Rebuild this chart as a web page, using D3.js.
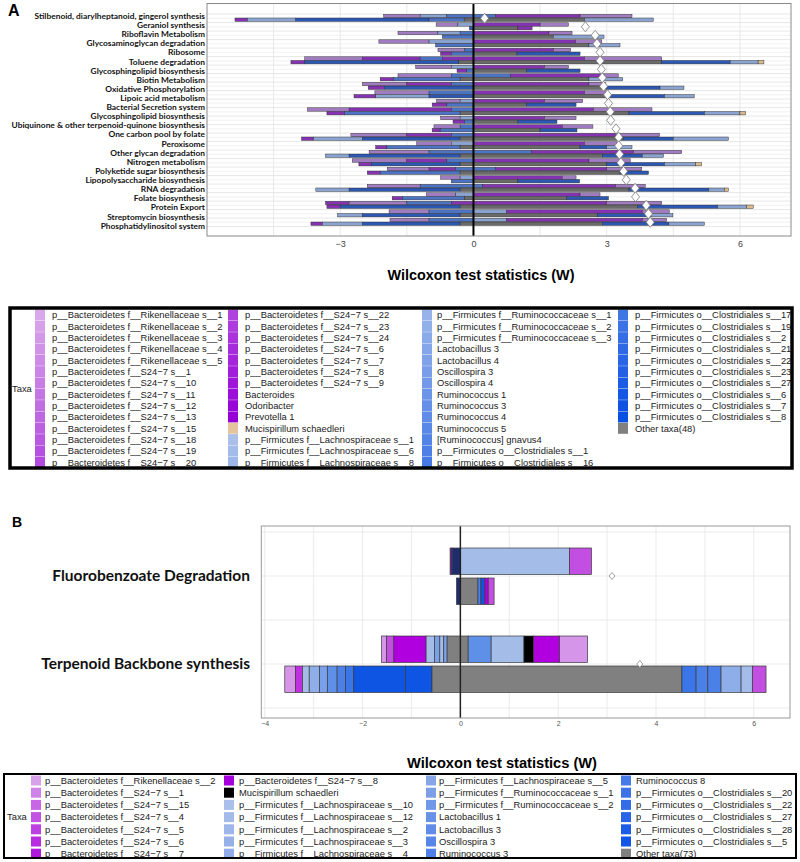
<!DOCTYPE html>
<html><head><meta charset="utf-8">
<script src="https://cdn.jsdelivr.net/npm/d3@7"></script>
<style>body{margin:0;background:#fff}svg{display:block}</style>
</head><body><svg id="c" width="800" height="862"></svg>
<script>
// ---------------- DATA: panel A ----------------
const pathwayLabelsA = ["Stilbenoid, diarylheptanoid, gingerol synthesis","Geraniol synthesis","Riboflavin Metabolism","Glycosaminoglycan degradation","Ribosome","Toluene degradation","Glycosphingolipid biosynthesis","Biotin Metabolism","Oxidative Phosphorylation","Lipoic acid metabolism","Bacterial Secretion system","Glycosphingolipid biosynthesis","Ubiquinone & other terpenoid-quinone biosynthesis","One carbon pool by folate","Peroxisome","Other glycan degradation","Nitrogen metabolism","Polyketide sugar biosynthesis","Lipopolysaccharide biosynthesis","RNA degradation","Folate biosynthesis","Protein Export","Streptomycin biosynthesis","Phosphatidylinositol system"];
const rowsA = ["r1","r2","r3","r4","r5","r6","r7","r8","r9","r10","r11","r12","r13","r14","r15","r16","r17","r18","r19","r20","r21","r22","r23","r24","r25"];
const diamondsA = [0.25,2.52,2.74,2.78,2.85,2.85,2.88,2.90,2.93,3.02,3.04,3.08,3.09,3.21,3.27,3.27,3.29,3.32,3.38,3.44,3.64,3.65,3.89,3.94,3.98];
// each bar: [start, [taxonGroup, end], ...]
const topBarsA = [
 [-2.02,["L",-1.2],["S",-0.6],["B",0.5],["P",2.4],["L",3.57]],
 [-0.84,["L",-0.35],["S",0],["P",1.5],["L",2.14]],
 [-1.70,["L",-0.8],["S",-0.3],["B",0],["P",1.7],["L",2.22]],
 [-2.13,["L",-1.0],["S",0],["P",2.3],["L",2.89]],
 [-0.80,["L",-0.2],["B",0],["P",1.8],["L",2.19]],
 [-3.80,["L",-2.5],["P",-1.2],["B",-0.7],["P",2.5],["L",4.24]],
 [-1.30,["L",-0.5],["S",0],["P",1.6],["L",2.14]],
 [-1.70,["L",-0.5],["B",0.83],["P",2.9],["L",3.26]],
 [-2.50,["L",-1.5],["P",-0.5],["B",0],["P",2.6],["L",2.97]],
 [-2.22,["L",-1.0],["B",0],["P",2.5],["L",2.99]],
 [-0.83,["L",-0.3],["S",0],["P",1.6],["L",2.46]],
 [-3.74,["L",-2.8],["P",-0.5],["B",0],["P",2.7],["L",4.02]],
 [-0.74,["L",-0.3],["S",0],["P",1.6],["L",2.31]],
 [-0.89,["L",-0.3],["B",0],["P",2.0],["L",2.69]],
 [-2.76,["L",-1.5],["P",-0.5],["B",0],["P",3.2],["L",4.19]],
 [-1.28,["L",-0.5],["S",0],["P",2.5],["L",3.23]],
 [-2.35,["L",-1.0],["B",1.3],["P",3.6],["L",4.69]],
 [-2.73,["L",-1.5],["P",-0.6],["B",0],["P",2.6],["L",3.53]],
 [-1.94,["L",-1.0],["P",-0.4],["B",0.5],["P",3.0],["L",3.79]],
 [-0.74,["L",-0.3],["S",0],["P",2.0],["L",2.31]],
 [-2.39,["L",-1.2],["B",0.2],["P",3.2],["L",3.87]],
 [-1.06,["L",-0.4],["S",0],["P",2.4],["L",2.85]],
 [-3.33,["P",-2.8],["L",-1.5],["B",-0.5],["P",3.0],["L",4.24]],
 [-1.90,["L",-1.0],["B",0],["S",0.75],["P",3.8],["L",4.41]],
 [-1.88,["L",-1.0],["B",0],["S",0.75],["P",3.8],["L",4.35]]
];
const bottomBarsA = [
 [-5.37,["P",-5.09],["S",-4.0],["D",-1.0],["B",-0.2],["G",2.5],["S",4.05]],
 [-0.09,["D",0],["G",1.0],["P",1.32]],
 [-0.70,["B",0],["G",1.8],["S",2.94]],
 [-0.85,["B",0],["G",2.6],["S",3.30]],
 [-0.74,["P",-0.5],["B",0],["G",0.98],["D",2.40]],
 [-4.11,["P",-3.8],["D",-0.33],["G",4.24],["D",5.78],["S",6.41],["T",6.54]],
 [-0.37,["P",-0.15],["B",0],["G",1.2],["D",2.40]],
 [-2.10,["P",-1.8],["B",-0.3],["G",2.6],["S",3.36]],
 [-2.37,["P",-2.0],["D",0],["G",3.0],["D",4.2],["S",4.74]],
 [-2.69,["P",-2.2],["S",-1.0],["D",0],["G",3.0],["D",4.3],["S",4.97]],
 [-0.93,["P",-0.6],["B",0],["G",1.2],["D",2.31]],
 [-3.30,["P",-2.9],["B",-0.3],["G",3.5],["D",5.2],["S",6.0],["T",6.13]],
 [-0.46,["P",-0.2],["B",0],["G",1.0],["D",1.88]],
 [-0.93,["P",-0.75],["B",0],["G",1.5],["D",2.33]],
 [-3.87,["P",-3.6],["S",-2.5],["D",-0.3],["G",3.37],["D",4.5],["S",5.74]],
 [-2.20,["P",-1.95],["B",-0.3],["G",2.4],["D",3.0],["S",3.57]],
 [-3.33,["S",-2.8],["D",-0.3],["G",2.9],["D",3.8],["S",4.28]],
 [-2.58,["P",-2.3],["D",-0.3],["G",3.0],["D",4.3],["S",5.0],["T",5.14]],
 [-2.39,["P",-2.1],["B",-0.3],["G",3.3],["D",3.94]],
 [-0.50,["B",0],["G",1.0],["D",2.39]],
 [-3.55,["S",-2.8],["D",-0.3],["G",3.5],["D",5.3],["S",5.65],["T",5.74]],
 [-1.83,["P",-1.6],["B",-0.2],["G",2.1],["D",3.04]],
 [-3.30,["P",-3.0],["D",-0.3],["G",3.7],["D",5.5],["S",6.15],["T",6.30]],
 [-3.06,["S",-2.5],["D",-0.3],["G",2.8],["D",4.0],["S",4.49]],
 [-3.66,["P",-3.4],["S",-2.5],["D",-0.3],["G",2.9],["D",4.4],["S",5.20]]
];
const ticksA = [-3,0,3,6];
const gridA = [-4.5,-3,-1.5,0,1.5,3,4.5,6];

// legend A
const legendA1 = ["p__Bacteroidetes f__Rikenellaceae s__1","p__Bacteroidetes f__Rikenellaceae s__2","p__Bacteroidetes f__Rikenellaceae s__3","p__Bacteroidetes f__Rikenellaceae s__4","p__Bacteroidetes f__Rikenellaceae s__5","p__Bacteroidetes f__S24\u22127 s__1","p__Bacteroidetes f__S24\u22127 s__10","p__Bacteroidetes f__S24\u22127 s__11","p__Bacteroidetes f__S24\u22127 s__12","p__Bacteroidetes f__S24\u22127 s__13","p__Bacteroidetes f__S24\u22127 s__15","p__Bacteroidetes f__S24\u22127 s__18","p__Bacteroidetes f__S24\u22127 s__19","p__Bacteroidetes f__S24\u22127 s__20"];
const legendA2 = ["p__Bacteroidetes f__S24\u22127 s__22","p__Bacteroidetes f__S24\u22127 s__23","p__Bacteroidetes f__S24\u22127 s__24","p__Bacteroidetes f__S24\u22127 s__6","p__Bacteroidetes f__S24\u22127 s__7","p__Bacteroidetes f__S24\u22127 s__8","p__Bacteroidetes f__S24\u22127 s__9","Bacteroides","Odoribacter","Prevotella 1","Mucispirillum schaedleri","p__Firmicutes f__Lachnospiraceae s__1","p__Firmicutes f__Lachnospiraceae s__6","p__Firmicutes f__Lachnospiraceae s__8"];
const legendA3 = ["p__Firmicutes f__Ruminococcaceae s__1","p__Firmicutes f__Ruminococcaceae s__2","p__Firmicutes f__Ruminococcaceae s__3","Lactobacillus 3","Lactobacillus 4","Oscillospira 3","Oscillospira 4","Ruminococcus 1","Ruminococcus 3","Ruminococcus 4","Ruminococcus 5","[Ruminococcus] gnavus4","p__Firmicutes o__Clostridiales s__1","p__Firmicutes o__Clostridiales s__16"];
const legendA4 = ["p__Firmicutes o__Clostridiales s__17","p__Firmicutes o__Clostridiales s__19","p__Firmicutes o__Clostridiales s__2","p__Firmicutes o__Clostridiales s__21","p__Firmicutes o__Clostridiales s__22","p__Firmicutes o__Clostridiales s__23","p__Firmicutes o__Clostridiales s__27","p__Firmicutes o__Clostridiales s__6","p__Firmicutes o__Clostridiales s__7","p__Firmicutes o__Clostridiales s__8","Other taxa(48)"];

// ---------------- DATA: panel B ----------------
const pathwaysB = ["Fluorobenzoate Degradation","Terpenoid Backbone synthesis"];
const diamondsB = [3.10, 3.67];
const topBarsB = [
 [-0.21,["dp",-0.17],["nv",0],["lb",2.23],["mg",2.68]],
 [-1.61,["lp",-1.51],["mg",-1.36],["vp",-0.70],["lb",-0.53],["mb",-0.42],["lb",-0.34],["mb",-0.27],["gy",0.16],["b1",0.63],["lb",1.30],["bk",1.50],["vp",2.03],["lp",2.60]]
];
const bottomBarsB = [
 [-0.08,["nv",0],["gy",0.36],["b2",0.42],["d1",0.50],["vp",0.57],["mg",0.69]],
 [-3.59,["lp",-3.37],["vp2",-3.23],["lb",-3.09],["lb2",-2.88],["mb",-2.72],["b1",-2.52],["b2",-2.35],["b3",-2.18],["d1",-1.12],["d1",-0.58],["gy",4.53],["b3",4.82],["b2",5.06],["b2",5.33],["lb2",5.74],["lb",5.97],["mg",6.25]]
];
const ticksB = [-4,-2,0,2,4,6];
const gridB = [-4,-3,-2,-1,0,1,2,3,4,5,6];
const legendB1 = ["p__Bacteroidetes f__Rikenellaceae s__2","p__Bacteroidetes f__S24\u22127 s__1","p__Bacteroidetes f__S24\u22127 s__15","p__Bacteroidetes f__S24\u22127 s__4","p__Bacteroidetes f__S24\u22127 s__5","p__Bacteroidetes f__S24\u22127 s__6","p__Bacteroidetes f__S24\u22127 s__7"];
const legendB2 = ["p__Bacteroidetes f__S24\u22127 s__8","Mucispirillum schaedleri","p__Firmicutes f__Lachnospiraceae s__10","p__Firmicutes f__Lachnospiraceae s__12","p__Firmicutes f__Lachnospiraceae s__2","p__Firmicutes f__Lachnospiraceae s__3","p__Firmicutes f__Lachnospiraceae s__4"];
const legendB3 = ["p__Firmicutes f__Lachnospiraceae s__5","p__Firmicutes f__Ruminococcaceae s__1","p__Firmicutes f__Ruminococcaceae s__2","Lactobacillus 1","Lactobacillus 3","Oscillospira 3","Ruminococcus 3"];
const legendB4 = ["Ruminococcus 8","p__Firmicutes o__Clostridiales s__20","p__Firmicutes o__Clostridiales s__22","p__Firmicutes o__Clostridiales s__27","p__Firmicutes o__Clostridiales s__28","p__Firmicutes o__Clostridiales s__5","Other taxa(73)"];

// ---------------- STYLE ----------------
const colA = {L:"#a27cc2",P:"#8533b3",S:"#8ba3d1",B:"#4c73c4",D:"#2c57b3",G:"#6a6a6a",T:"#d9b98f"};
const colB = {dp:"#6a1a96",nv:"#1e2d6e",lb:"#a3bde8",lb2:"#8eaee9",mg:"#c24fe2",lp:"#d596ea",vp:"#b000e0",vp2:"#c030e0",mb:"#7aa0ea",b1:"#5f90e8",b2:"#4a80e8",b3:"#3a76e8",d1:"#0d55e2",gy:"#808080",bk:"#000000"};
const legFont = "'Liberation Sans', Arial, sans-serif";

const svg = d3.select("#c");

// ================= PANEL A =================
const xA = d3.scaleLinear().domain([-6, 7.15]).range([207, 791]);
const yA = d3.scaleBand().domain(rowsA).range([14.05, 226.55]);
const yLab = d3.scalePoint().domain(d3.range(pathwayLabelsA.length)).range([16, 225.7]);
const plotA = {x0:207,x1:791,y0:3.5,y1:236};

svg.append("text").attr("x",8).attr("y",16).text("A")
  .attr("font-family","'Liberation Sans',Arial,sans-serif").attr("font-weight","bold").attr("font-size",16);

const gA = svg.append("g");
gA.append("rect").attr("x",plotA.x0).attr("y",plotA.y0).attr("width",plotA.x1-plotA.x0).attr("height",plotA.y1-plotA.y0)
  .attr("fill","#fff");
rowsA.forEach(r=>{
  const y0=yA(r), bw=yA.bandwidth();
  [y0, y0+bw/2].forEach((yy,k)=>gA.append("line").attr("x1",plotA.x0).attr("x2",plotA.x1).attr("y1",yy).attr("y2",yy)
    .attr("stroke",k? "#ececec":"#dedede").attr("stroke-width",0.7));
});
gA.append("line").attr("x1",plotA.x0).attr("x2",plotA.x1).attr("y1",yA.range()[1]).attr("y2",yA.range()[1]).attr("stroke","#dedede").attr("stroke-width",0.7);
gridA.forEach(v=>gA.append("line").attr("x1",xA(v)).attr("x2",xA(v)).attr("y1",plotA.y0).attr("y2",plotA.y1)
  .attr("stroke","#e2e2e2").attr("stroke-width",0.8));

function drawBar(g, xs, bar, y, h, cmap, sw, stroke){
  let x0 = bar[0];
  for(let i=1;i<bar.length;i++){
    const [k,end]=bar[i];
    g.append("rect").attr("x",xs(Math.min(x0,end))).attr("y",y).attr("width",Math.abs(xs(end)-xs(x0))).attr("height",h)
      .attr("fill",cmap[k]).attr("stroke",stroke).attr("stroke-width",sw);
    x0=end;
  }
}
rowsA.forEach((r,i)=>{
  const c = yA(r)+yA.bandwidth()/2;
  drawBar(gA,xA,topBarsA[i],c-4.0,3.4,colA,0.45,"#2b2b2b");
  drawBar(gA,xA,bottomBarsA[i],c-0.3,3.4,colA,0.45,"#2b2b2b");
});
gA.append("line").attr("x1",xA(0)).attr("x2",xA(0)).attr("y1",plotA.y0).attr("y2",plotA.y1).attr("stroke","#000").attr("stroke-width",2);
rowsA.forEach((r,i)=>{
  const c = yA(r)+yA.bandwidth()/2, x=xA(diamondsA[i]);
  gA.append("path").attr("d",`M${x},${c-5}L${x+4},${c}L${x},${c+5}L${x-4},${c}Z`)
    .attr("fill","#fff").attr("stroke","#7a7a7a").attr("stroke-width",0.8);
});
gA.append("rect").attr("x",plotA.x0).attr("y",plotA.y0).attr("width",plotA.x1-plotA.x0).attr("height",plotA.y1-plotA.y0)
  .attr("fill","none").attr("stroke","#8a8a8a").attr("stroke-width",1);
pathwayLabelsA.forEach((t,i)=>{
  svg.append("text").attr("x",205).attr("y",yLab(i)).attr("dy","0.35em").attr("text-anchor","end")
    .attr("font-family","Lato,'Open Sans',sans-serif").attr("font-weight","bold").attr("font-size",8.4).attr("fill","#111").text(t);
});
const axA = d3.axisBottom(xA).tickValues(ticksA).tickSize(0).tickPadding(0);
const axGA = svg.append("g").attr("transform",`translate(0,${plotA.y1+5})`).call(axA);
axGA.select(".domain").remove();
axGA.selectAll("text").attr("font-family",legFont).attr("font-size",9).attr("fill","#444");
svg.append("text").attr("x",481).attr("y",280).attr("text-anchor","middle").text("Wilcoxon test statistics (W)")
  .attr("font-family",legFont).attr("font-weight","bold").attr("font-size",14).attr("textLength",187).attr("lengthAdjust","spacingAndGlyphs");

// legend A
const purpA = d3.quantize(d3.interpolateRgb("#d9a8ea","#9600d6"), 24);
const blueA = d3.quantize(d3.interpolateRgb("#aac0ea","#0a4fe3"), 27);
const legColA = [...purpA, "#e6c59e", ...blueA, "#808080"];
const colsA = [legendA1, legendA2, legendA3, legendA4];
const colXA = [[35,52],[228,245],[422,437],[618,635]];
const legA = svg.append("g");
legA.append("clipPath").attr("id","clA").append("rect").attr("x",10).attr("y",308).attr("width",782).attr("height",160);
const legAin = legA.append("g").attr("clip-path","url(#clA)");
let idx=0;
colsA.forEach((col,ci)=>{
  col.forEach((t,ri)=>{
    const cy = 315+ri*11.33;
    legAin.append("rect").attr("x",colXA[ci][0]).attr("y",cy-5.5).attr("width",10).attr("height",11).attr("fill",legColA[idx]);
    legAin.append("text").attr("x",colXA[ci][1]).attr("y",cy).attr("dy","0.35em").attr("font-family",legFont).attr("font-size",9.4).attr("fill","#222").text(t);
    idx++;
  });
});
legA.append("text").attr("x",12).attr("y",389).attr("dy","0.35em").attr("font-family",legFont).attr("font-size",9.4).attr("fill","#222").text("Taxa");
legA.append("rect").attr("x",10).attr("y",308).attr("width",782).attr("height",160).attr("fill","none").attr("stroke","#000").attr("stroke-width",3.5);

// ================= PANEL B =================
const xB = d3.scaleLinear().domain([-4.07, 6.74]).range([261.3, 790]);
const yB = d3.scalePoint().domain(pathwaysB).range([576, 664]);
const plotB = {x0:261.3,x1:790,y0:526,y1:718};
svg.append("text").attr("x",12).attr("y",527).text("B")
  .attr("font-family","'Liberation Sans',Arial,sans-serif").attr("font-weight","bold").attr("font-size",14);
const gB = svg.append("g");
gridB.forEach(v=>gB.append("line").attr("x1",xB(v)).attr("x2",xB(v)).attr("y1",plotB.y0).attr("y2",plotB.y1).attr("stroke","#e6e6e6").attr("stroke-width",0.8));
[532, 576, 620, 664, 708].forEach(yy=>gB.append("line").attr("x1",plotB.x0).attr("x2",plotB.x1).attr("y1",yy).attr("y2",yy).attr("stroke","#e6e6e6").attr("stroke-width",0.8));
pathwaysB.forEach((p,i)=>{
  const c=yB(p);
  drawBar(gB,xB,topBarsB[i],c-28,26.5,colB,0.7,"#3a3a3a");
  drawBar(gB,xB,bottomBarsB[i],c+2,26.5,colB,0.7,"#3a3a3a");
});
gB.append("line").attr("x1",xB(0)).attr("x2",xB(0)).attr("y1",plotB.y0).attr("y2",plotB.y1).attr("stroke","#222").attr("stroke-width",1.5);
pathwaysB.forEach((p,i)=>{
  const c=yB(p), x=xB(diamondsB[i]);
  gB.append("path").attr("d",`M${x},${c-3.5}L${x+3},${c}L${x},${c+3.5}L${x-3},${c}Z`).attr("fill","#fff").attr("stroke","#777").attr("stroke-width",0.7);
  svg.append("text").attr("x",250).attr("y",c).attr("dy","0.35em").attr("text-anchor","end")
    .attr("font-family","Lato,'Open Sans',sans-serif").attr("font-weight","bold").attr("font-size",15.5).attr("fill","#111").text(p);
});
gB.append("rect").attr("x",plotB.x0).attr("y",plotB.y0).attr("width",plotB.x1-plotB.x0).attr("height",plotB.y1-plotB.y0)
  .attr("fill","none").attr("stroke","#999").attr("stroke-width",1);
const axB = d3.axisBottom(xB).tickValues(ticksB).tickSize(0).tickPadding(0);
const axGB = svg.append("g").attr("transform",`translate(0,${plotB.y1+3})`).call(axB);
axGB.select(".domain").remove();
axGB.selectAll("text").attr("font-family",legFont).attr("font-size",7).attr("fill","#555");
svg.append("text").attr("x",502).attr("y",768).attr("text-anchor","middle").text("Wilcoxon test statistics (W)")
  .attr("font-family",legFont).attr("font-weight","bold").attr("font-size",14).attr("textLength",190).attr("lengthAdjust","spacingAndGlyphs");

// legend B
const legColB = ["#d8a2ea","#cf82e8","#c866e6","#c252e4","#bd40e2","#b72ce0","#b018de",
                 "#a600dc","#000000","#aac0ea","#a4bbe9","#9eb6e9","#97b1e8","#91ace8",
                 "#87a6e8","#7c9fe8","#7298e8","#6892e8","#5f8ce8","#5786e8","#4e80e8",
                 "#467ae7","#3c73e6","#326ce6","#2865e6","#1c5de5","#1156e4","#808080"];
const colsB=[legendB1,legendB2,legendB3,legendB4];
const colXB=[[31,45],[224,239],[426,439],[621,636]];
const legB = svg.append("g");
let jdx=0;
colsB.forEach((col,ci)=>{
  col.forEach((t,ri)=>{
    const cy=780.5+ri*12.2;
    legB.append("rect").attr("x",colXB[ci][0]).attr("y",cy-5).attr("width",10).attr("height",10).attr("fill",legColB[jdx]);
    legB.append("text").attr("x",colXB[ci][1]).attr("y",cy).attr("dy","0.35em").attr("font-family",legFont).attr("font-size",9.4).attr("fill","#222").text(t);
    jdx++;
  });
});
legB.append("text").attr("x",7).attr("y",817).attr("dy","0.35em").attr("font-family",legFont).attr("font-size",9.4).attr("fill","#222").text("Taxa");
legB.append("rect").attr("x",4).attr("y",774).attr("width",792).attr("height",84).attr("fill","none").attr("stroke","#000").attr("stroke-width",2);
</script></body></html>
